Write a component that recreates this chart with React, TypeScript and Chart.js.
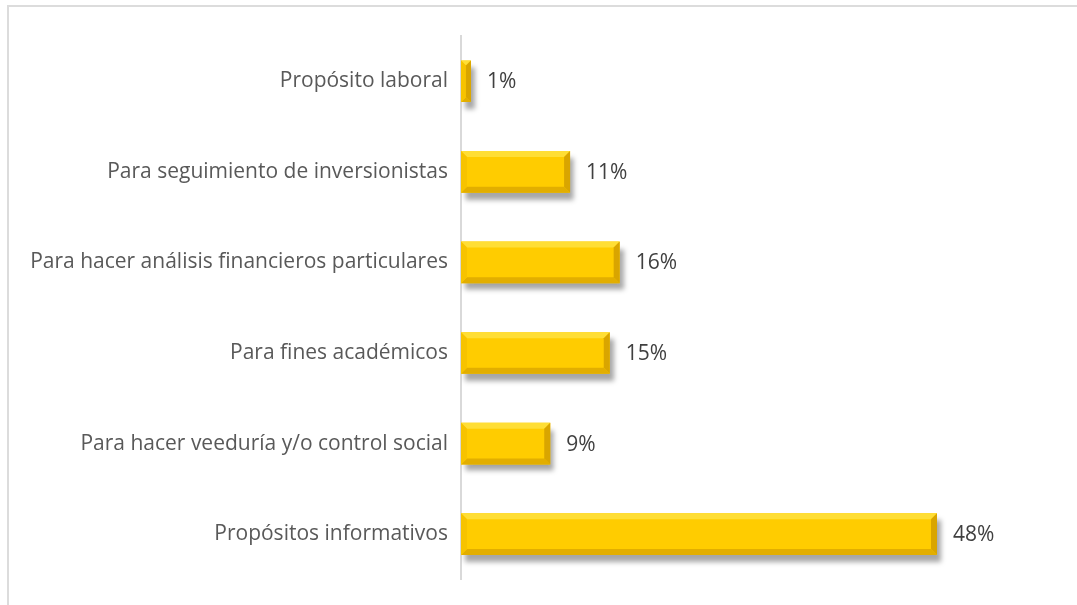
import React, { useEffect, useRef } from "react";
import { Chart, registerables } from "chart.js";

Chart.register(...registerables);

const categories = [
  "Propósito laboral",
  "Para seguimiento de inversionistas",
  "Para hacer análisis financieros particulares",
  "Para fines académicos",
  "Para hacer veeduría y/o control social",
  "Propósitos informativos",
];
const values = [0.01, 0.11, 0.16, 0.15, 0.09, 0.48];
const valueLabels = ["1%", "11%", "16%", "15%", "9%", "48%"];

const FONT_FAMILY = "'Open Sans', 'Noto Sans', sans-serif";
const FONT_SIZE = 21;

const bevelPlugin = {
  id: "bevel3d",
  beforeDatasetDraw(chart: any) {
    const ctx = chart.ctx;
    ctx.save();
    ctx.shadowColor = "rgba(0,0,0,0.35)";
    ctx.shadowOffsetX = 4;
    ctx.shadowOffsetY = 7;
    ctx.shadowBlur = 5;
  },
  afterDatasetDraw(chart: any, args: any) {
    const ctx = chart.ctx;
    ctx.restore();
    const meta = chart.getDatasetMeta(args.index);
    meta.data.forEach((el: any) => {
      const p = el.getProps(["x", "y", "base", "height"], true);
      const left = Math.min(p.base, p.x);
      const right = Math.max(p.base, p.x);
      const top = p.y - p.height / 2;
      const bottom = p.y + p.height / 2;
      const b = Math.min(6, (right - left) / 2, p.height / 2);
      const poly = (pts: number[][], color: string) => {
        ctx.beginPath();
        ctx.moveTo(pts[0][0], pts[0][1]);
        for (let i = 1; i < pts.length; i++) ctx.lineTo(pts[i][0], pts[i][1]);
        ctx.closePath();
        ctx.fillStyle = color;
        ctx.fill();
      };
      ctx.save();
      poly(
        [
          [left, top],
          [right, top],
          [right - b, top + b],
          [left + b, top + b],
        ],
        "#FFDE35"
      );
      poly(
        [
          [left, bottom],
          [right, bottom],
          [right - b, bottom - b],
          [left + b, bottom - b],
        ],
        "#E2AE00"
      );
      poly(
        [
          [left, top],
          [left + b, top + b],
          [left + b, bottom - b],
          [left, bottom],
        ],
        "#F7C300"
      );
      poly(
        [
          [right, top],
          [right - b, top + b],
          [right - b, bottom - b],
          [right, bottom],
        ],
        "#D9A500"
      );
      ctx.restore();
    });
  },
  afterDatasetsDraw(chart: any) {
    const ctx = chart.ctx;
    const meta = chart.getDatasetMeta(0);
    ctx.save();
    ctx.font = `${FONT_SIZE}px ${FONT_FAMILY}`;
    ctx.fillStyle = "#404040";
    ctx.textAlign = "left";
    ctx.textBaseline = "middle";
    meta.data.forEach((el: any, i: number) => {
      const p = el.getProps(["x", "y"], true);
      ctx.fillText(valueLabels[i], p.x + 16, p.y + 1);
    });
    ctx.restore();
  },
};

export default function App() {
  const ref = useRef<HTMLCanvasElement>(null);
  useEffect(() => {
    if (!ref.current) return;
    const chart = new Chart(ref.current, {
      type: "bar",
      data: {
        labels: categories,
        datasets: [
          {
            data: values,
            backgroundColor: "#FFCC00",
            borderWidth: 0,
            categoryPercentage: 1,
            barPercentage: 0.46,
          },
        ],
      },
      options: {
        indexAxis: "y",
        animation: false,
        responsive: false,
        layout: { padding: { top: 36, bottom: 25, right: 21, left: 0 } },
        plugins: {
          legend: { display: false },
          tooltip: { enabled: false },
        },
        scales: {
          x: {
            display: false,
            min: 0,
            max: 0.6,
          },
          y: {
            afterFit: (scale: any) => {
              scale.width = 461;
            },
            grid: { display: false, drawTicks: false },
            border: { display: true, color: "#d9d9d9", width: 2 },
            ticks: {
              padding: 13,
              color: "#595959",
              font: { family: FONT_FAMILY, size: FONT_SIZE },
            },
          },
        },
      },
      plugins: [bevelPlugin],
    });
    return () => chart.destroy();
  }, []);

  return (
    <div
      style={{
        position: "fixed",
        left: 0,
        top: 0,
        width: 1077,
        height: 605,
        background: "#fff",
        overflow: "hidden",
      }}
    >
      <div
        style={{
          position: "absolute",
          left: 7,
          top: 5,
          width: 1200,
          height: 800,
          border: "2px solid #dcdcdc",
          boxSizing: "border-box",
        }}
      />
      <canvas
        ref={ref}
        width={1077}
        height={605}
        style={{ position: "absolute", left: 0, top: 0 }}
      />
    </div>
  );
}
